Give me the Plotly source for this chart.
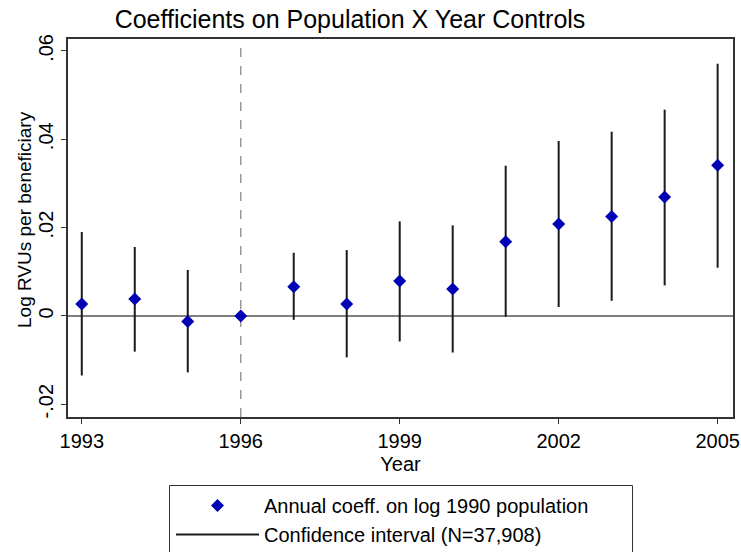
import plotly.graph_objects as go

years = [1993, 1994, 1995, 1996, 1997, 1998, 1999, 2000, 2001, 2002, 2003, 2004, 2005]
coef = [0.0027, 0.0038, -0.0013, 0.0, 0.0066, 0.0027, 0.0079, 0.0061, 0.0168, 0.0208, 0.0225, 0.0269, 0.0341]
ci_low = [-0.0135, -0.0081, -0.0128, None, -0.0009, -0.0094, -0.0058, -0.0083, -0.0002, 0.0020, 0.0034, 0.0069, 0.0109]
ci_high = [0.0190, 0.0156, 0.0104, None, 0.0143, 0.0149, 0.0214, 0.0205, 0.0340, 0.0396, 0.0417, 0.0467, 0.0571]

y_tickvals = [-0.02, 0, 0.02, 0.04, 0.06]
y_ticktext = ["-.02", "0", ".02", ".04", ".06"]
x_tickvals = [1993, 1996, 1999, 2002, 2005]
x_ticktext = ["1993", "1996", "1999", "2002", "2005"]

ci_x, ci_y = [], []
for yr, lo, hi in zip(years, ci_low, ci_high):
    if lo is None:
        continue
    ci_x += [yr, yr, None]
    ci_y += [lo, hi, None]

FONT = "Liberation Sans, Arial, Helvetica, sans-serif"

fig = go.Figure()
fig.add_trace(go.Scatter(
    x=ci_x, y=ci_y, mode="lines",
    line=dict(color="#1a1a1a", width=2),
    name="Confidence interval (N=37,908)", legendrank=2,
))
fig.add_trace(go.Scatter(
    x=years, y=coef, mode="markers",
    marker=dict(symbol="diamond", size=10, color="#0000b4"),
    name="Annual coeff. on log 1990 population", legendrank=1,
))

# zero line and reference year line
fig.add_hline(y=0, line=dict(color="#555555", width=1.5), layer="below")
fig.add_vline(x=1996, line=dict(color="#999999", width=1.5, dash="dash"), layer="below")

# legend frame
L, R, T, B = 68, 733, 39, 417
def px_x(p):
    return (p - L) / (R - L)
def px_y(p):
    return (B - p) / (B - T)
fig.add_shape(type="rect", xref="paper", yref="paper",
              x0=px_x(169.5), x1=px_x(632.5), y0=px_y(580), y1=px_y(485.5),
              line=dict(color="#333333", width=1), fillcolor="rgba(0,0,0,0)")

# y-axis title
fig.add_annotation(text="Log RVUs per beneficiary", textangle=-90,
                   xref="paper", yref="paper", x=px_x(24), y=px_y(220),
                   xanchor="center", yanchor="middle", showarrow=False,
                   font=dict(size=19, color="black"))

fig.update_layout(
    width=741, height=552,
    margin=dict(l=L, r=741 - R, t=T, b=552 - B, autoexpand=False),
    paper_bgcolor="white", plot_bgcolor="white",
    font=dict(family=FONT, size=20, color="black"),
    title=dict(text="Coefficients on Population X Year Controls",
               x=350 / 741, xanchor="center", xref="container",
               y=1 - 19 / 552, yanchor="middle", yref="container",
               font=dict(size=25, color="black")),
    showlegend=True,
    legend=dict(xref="container", yref="container",
                x=171 / 741, xanchor="left", y=1 - 486 / 552, yanchor="top",
                itemwidth=83, font=dict(size=20), bgcolor="rgba(0,0,0,0)",
                borderwidth=0, tracegroupgap=0),
    xaxis=dict(range=[1992.74, 2005.29], tickvals=x_tickvals, ticktext=x_ticktext,
               showgrid=False, zeroline=False, showline=True, mirror=True,
               linecolor="#333333", linewidth=1.5, tickangle=0,
               ticks="outside", ticklen=5, tickcolor="#333333",
               tickfont=dict(size=20),
               title=dict(text="Year", standoff=6, font=dict(size=20))),
    yaxis=dict(range=[-0.0229, 0.0627], tickvals=y_tickvals, ticktext=y_ticktext,
               showgrid=False, zeroline=False, showline=True, mirror=True,
               linecolor="#333333", linewidth=1.5,
               ticks="outside", ticklen=5, tickcolor="#333333", tickangle=-90,
               tickfont=dict(size=20)),
)

fig.write_html("out.html", post_script="document.body.style.margin='0';",
               config={"displayModeBar": False})
